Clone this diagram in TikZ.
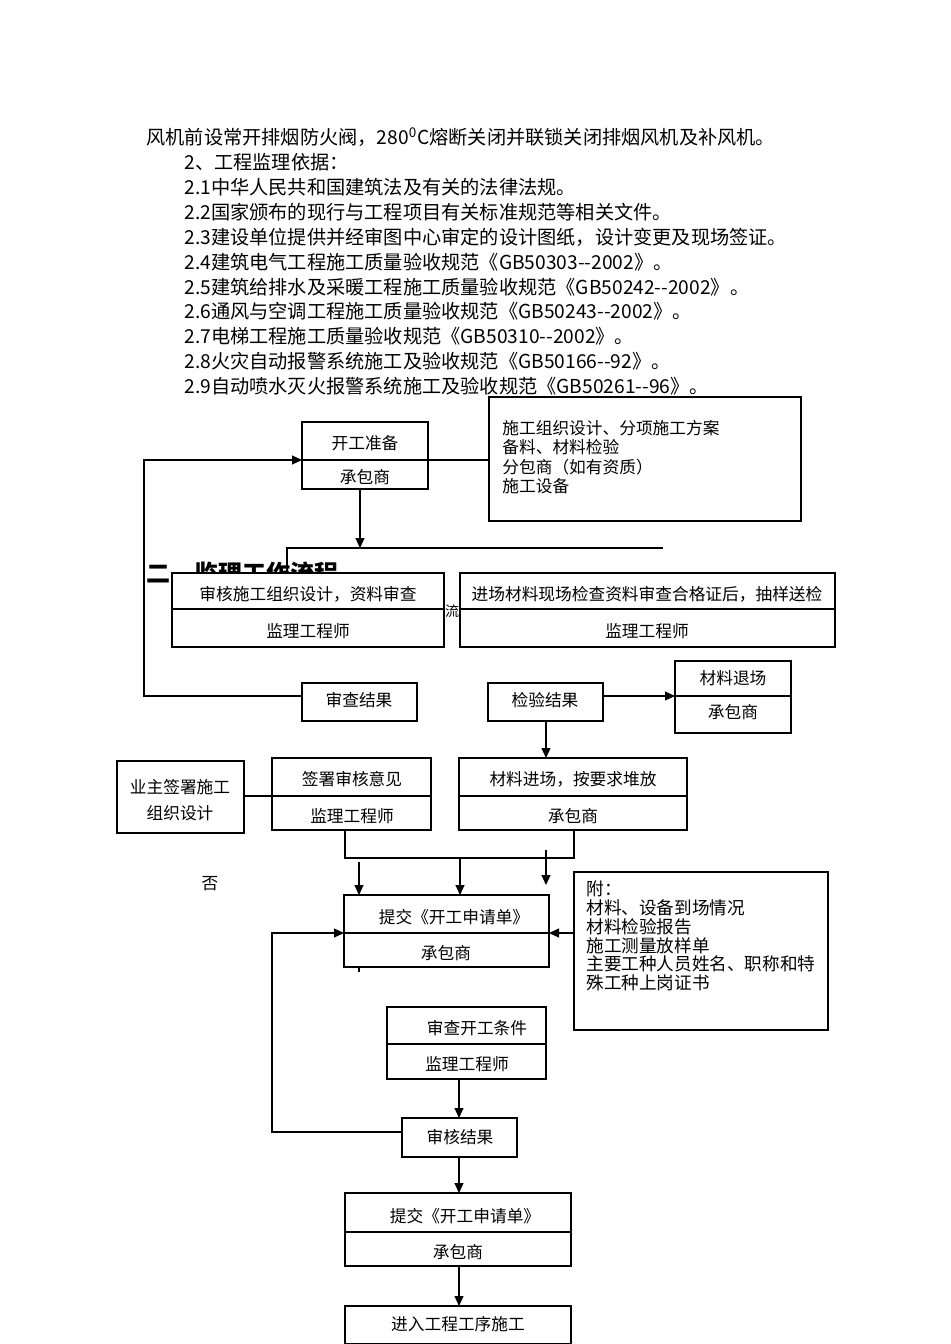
\documentclass[tikz,border=0pt]{standalone}
\usepackage{fontspec}
\setmainfont{Noto Sans CJK SC}
\usetikzlibrary{arrows.meta}
\newcommand\bodyf{\fontsize{9.6pt}{12pt}\selectfont}
\newcommand\boxf{\fontsize{8.35pt}{10pt}\selectfont}
\newcommand\mkbox[5]{\node[bx, minimum width={(#4-#2)*0.5pt}, minimum height={(#5-#3)*0.5pt}] (#1) at ({(#2+#4)/2},{(#3+#5)/2}) {};}
\begin{document}
\begin{tikzpicture}[x=0.5pt,y=-0.5pt,
  bx/.style={draw=black, fill=white, line width=0.6pt, inner sep=0pt, outer sep=0pt},
  ln/.style={draw=black, line width=0.55pt},
  arr/.style={draw=black, line width=0.55pt, -{Triangle[length=5pt,width=4.5pt]}},
  body/.style={anchor=west, inner sep=0pt, font=\bodyf},
  lbl/.style={inner sep=0pt, font=\boxf}]
\useasboundingbox (0,0) rectangle (950,1344);
\fill[white] (0,0) rectangle (950,1344);
% body text
\node[body] (t0) at (146,137) {风机前设常开排烟防火阀，280\textsuperscript{0}C熔断关闭并联锁关闭排烟风机及补风机。};
\node[body] (t1) at (184,162) {2、工程监理依据：};
\node[body] (t2) at (184,187) {2.1中华人民共和国建筑法及有关的法律法规。};
\node[body] (t3) at (184,212) {2.2国家颁布的现行与工程项目有关标准规范等相关文件。};
\node[body] (t4) at (184,237) {2.3建设单位提供并经审图中心审定的设计图纸，设计变更及现场签证。};
\node[body] (t5) at (184,262) {2.4建筑电气工程施工质量验收规范《GB50303{-}{-}2002》。};
\node[body] (t6) at (184,287) {2.5建筑给排水及采暖工程施工质量验收规范《GB50242{-}{-}2002》。};
\node[body] (t7) at (184,311) {2.6通风与空调工程施工质量验收规范《GB50243{-}{-}2002》。};
\node[body] (t8) at (184,336) {2.7电梯工程施工质量验收规范《GB50310{-}{-}2002》。};
\node[body] (t9) at (184,361) {2.8火灾自动报警系统施工及验收规范《GB50166{-}{-}92》。};
\node[body] (t10) at (184,386) {2.9自动喷水灭火报警系统施工及验收规范《GB50261{-}{-}96》。};
% title (partly hidden behind boxes)
\node[anchor=west, inner sep=0pt, font=\fontsize{12pt}{14pt}\selectfont\bfseries] (title) at (146,573) {二、监理工作流程};
\node[inner sep=0pt, font=\fontsize{7pt}{8pt}\selectfont] (liu) at (452,611) {流};
% boxes
\mkbox{kg}{302}{422}{428}{489}
\mkbox{info}{489}{397}{801}{521}
\mkbox{sh}{172}{573}{444}{647}
\mkbox{jc1}{460}{573}{835}{647}
\mkbox{scjg}{302}{683}{417}{721}
\mkbox{jy}{488}{683}{603}{721}
\mkbox{tc}{675}{661}{791}{733}
\mkbox{yz}{117}{761}{244}{833}
\mkbox{qs}{272}{758}{431}{830}
\mkbox{jc}{459}{758}{687}{830}
\mkbox{tj1}{344}{895}{549}{967}
\mkbox{fu}{574}{872}{828}{1030}
\mkbox{sc}{387}{1007}{546}{1079}
\mkbox{shjg}{402}{1118}{517}{1157}
\mkbox{tj2}{345}{1193}{571}{1266}
\mkbox{jr}{345}{1306}{571}{1344}
% dividers
\draw[ln] (kg.west |- 0,460) -- (kg.east |- 0,460);
\draw[ln] (sh.west |- 0,609) -- (sh.east |- 0,609);
\draw[ln] (jc1.west |- 0,609) -- (jc1.east |- 0,609);
\draw[ln] (tc.west |- 0,696) -- (tc.east |- 0,696);
\draw[ln] (qs.west |- 0,796) -- (qs.east |- 0,796);
\draw[ln] (jc.west |- 0,796) -- (jc.east |- 0,796);
\draw[ln] (tj1.west |- 0,933) -- (tj1.east |- 0,933);
\draw[ln] (sc.west |- 0,1044) -- (sc.east |- 0,1044);
\draw[ln] (tj2.west |- 0,1232) -- (tj2.east |- 0,1232);
% box labels
\node[lbl] (kg1) at (365,443) {开工准备};
\node[lbl] (kg2) at (365,477) {承包商};
\node[anchor=west, inner sep=0pt, align=left, font=\fontsize{8.35pt}{9.75pt}\selectfont] (infot) at (502,457) {施工组织设计、分项施工方案\\备料、材料检验\\分包商（如有资质）\\施工设备};
\node[lbl] (sh1) at (308,594) {审核施工组织设计，资料审查};
\node[lbl] (sh2) at (308,631) {监理工程师};
\node[lbl] (jc11) at (647,594) {进场材料现场检查资料审查合格证后，抽样送检};
\node[lbl] (jc12) at (647,631) {监理工程师};
\node[lbl] (scjgt) at (359,700) {审查结果};
\node[lbl] (jyt) at (545,700) {检验结果};
\node[lbl] (tc1) at (733,678) {材料退场};
\node[lbl] (tc2) at (733,712) {承包商};
\node[inner sep=0pt, align=center, font=\fontsize{8.35pt}{13pt}\selectfont] (yzt) at (180,800) {业主签署施工\\组织设计};
\node[lbl] (qs1) at (352,779) {签署审核意见};
\node[lbl] (qs2) at (352,816) {监理工程师};
\node[lbl] (jc21) at (573,779) {材料进场，按要求堆放};
\node[lbl] (jc22) at (573,816) {承包商};
\node[lbl] (fou) at (210,884) {否};
\node[lbl] (tj11) at (454,917) {提交《开工申请单》};
\node[lbl] (tj12) at (446,953) {承包商};
\node[anchor=west, inner sep=0pt, align=left, font=\fontsize{8.8pt}{9.4pt}\selectfont] (fut) at (586,936) {附：\\材料、设备到场情况\\材料检验报告\\施工测量放样单\\主要工种人员姓名、职称和特\\殊工种上岗证书};
\node[lbl] (sc1) at (477,1028) {审查开工条件};
\node[lbl] (sc2) at (467,1064) {监理工程师};
\node[lbl] (shjgt) at (460,1137) {审核结果};
\node[lbl] (tj21) at (465,1216) {提交《开工申请单》};
\node[lbl] (tj22) at (458,1252) {承包商};
\node[lbl] (jrt) at (458,1324) {进入工程工序施工};
% connectors
\draw[arr] (scjg.west |- 0,696) -- (144,696) -- (144,460) -- (kg.west |- 0,460);
\draw[ln] (kg.east |- 0,460) -- (info.west |- 0,460);
\draw[arr] (kg.south -| 360,0) -- (360,548);
\coordinate (hr) at (663,548);
\draw[ln] (hr) -- (287,548) -- (sh.north -| 287,0);
\draw[arr] (jy.east |- 0,696) -- (tc.west |- 0,696);
\draw[arr] (jy.south -| 546,0) -- (jc.north -| 546,0);
\draw[ln] (yz.east |- 0,796) -- (qs.west |- 0,796);
\draw[ln] (qs.south -| 345,0) -- (345,858) -- (574,858) -- (jc.south -| 574,0);
\coordinate (a1) at (359,862);
\coordinate (a2) at (460,858);
\coordinate (a3) at (546,850);
\coordinate (a3e) at (546,885);
\draw[arr] (a1) -- (tj1.north -| a1);
\draw[arr] (a2) -- (tj1.north -| a2);
\draw[arr] (a3) -- (a3e);
\draw[ln] (tj1.south -| 359,0) -- (359,972);
\draw[arr] (fu.west |- 0,933) -- (tj1.east |- 0,933);
\draw[arr] (shjg.west |- 0,1132) -- (272,1132) -- (272,933) -- (tj1.west |- 0,933);
\draw[arr] (sc.south -| 459,0) -- (shjg.north -| 459,0);
\draw[arr] (shjg.south -| 459,0) -- (tj2.north -| 459,0);
\draw[arr] (tj2.south -| 459,0) -- (jr.north -| 459,0);
\end{tikzpicture}
\end{document}
